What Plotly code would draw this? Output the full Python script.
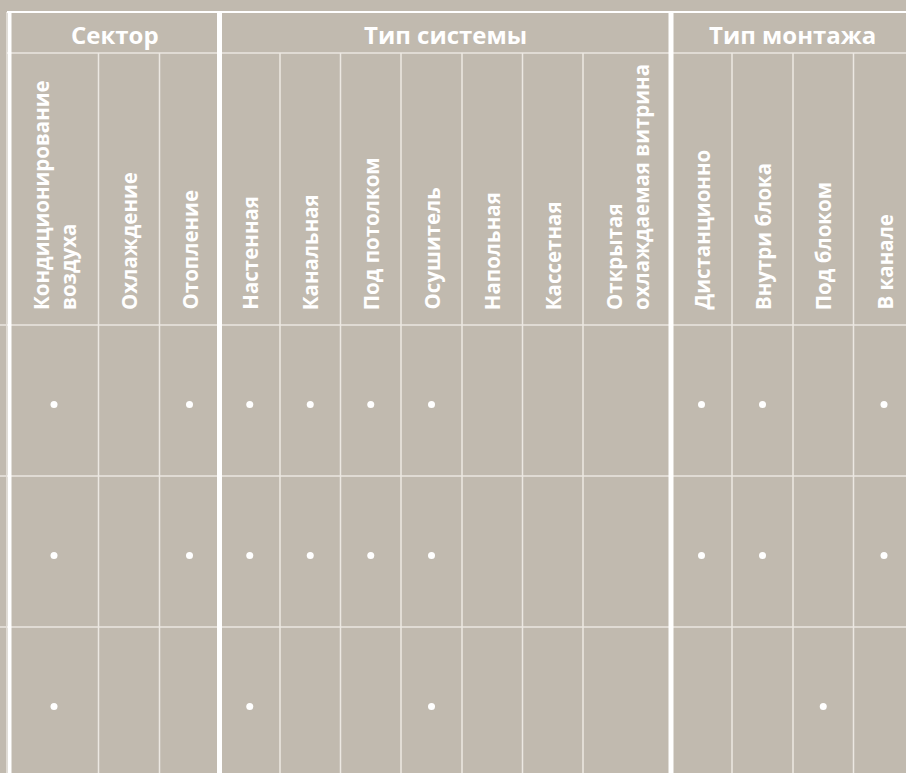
import plotly.graph_objects as go

# ---------------- data ----------------
groups = ["Сектор", "Тип системы", "Тип монтажа"]
group_sizes = [3, 7, 4]
columns = [
    "Кондиционирование<br>воздуха", "Охлаждение", "Отопление",
    "Настенная", "Канальная", "Под потолком", "Осушитель", "Напольная", "Кассетная",
    "Открытая<br>охлаждаемая витрина",
    "Дистанционно", "Внутри блока", "Под блоком", "В канале",
]
row_1 = [1, 0, 1, 1, 1, 1, 1, 0, 0, 0, 1, 1, 0, 1]
row_2 = [1, 0, 1, 1, 1, 1, 1, 0, 0, 0, 1, 1, 0, 1]
row_3 = [1, 0, 0, 1, 0, 0, 1, 0, 0, 0, 0, 0, 1, 0]
rows = [row_1, row_2, row_3]

# ---------------- layout geometry ----------------
W, H = 906, 773
BG = "#c1baaf"
THIN = "#ece8e2"
HLINE = "#e0dbd4"
col_widths = [89, 61, 60, 60.5, 60.5, 60.5, 61, 60.5, 60.5, 88, 61, 61, 60.5, 61]
x0 = 9.5
edges = [x0]
for w in col_widths:
    edges.append(edges[-1] + w)
centers = [(edges[i] + edges[i + 1]) / 2 for i in range(len(col_widths))]

top_line = 12
group_bottom = 53
header_bottom = 325
row_h = 151
row_tops = [header_bottom + i * row_h for i in range(len(rows))]

fig = go.Figure()

# dots
xs, ys = [], []
for r, vals in enumerate(rows):
    for c, v in enumerate(vals):
        if v:
            xs.append(centers[c])
            ys.append(row_tops[r] + row_h / 2 + 4)
fig.add_trace(go.Scatter(
    x=xs, y=ys, mode="markers",
    marker=dict(color="white", size=7, line=dict(width=0)),
    hoverinfo="skip", showlegend=False,
))

shapes = []
# horizontal lines
shapes.append(dict(type="line", x0=7, x1=W, y0=top_line, y1=top_line,
                   line=dict(color="white", width=2)))
shapes.append(dict(type="line", x0=7, x1=W, y0=group_bottom, y1=group_bottom,
                   line=dict(color=HLINE, width=2)))
for rt in row_tops:
    shapes.append(dict(type="line", x0=0, x1=W, y0=rt, y1=rt,
                       line=dict(color=HLINE, width=2)))

# group boundaries (thick)
group_edges_idx = [0]
for g in group_sizes:
    group_edges_idx.append(group_edges_idx[-1] + g)
thick_idx = set(group_edges_idx[:-1])
for i in range(1, len(edges) - 1):
    if i not in thick_idx:
        shapes.append(dict(type="line", x0=edges[i], x1=edges[i], y0=group_bottom, y1=H,
                           line=dict(color=THIN, width=1.5)))
shapes.append(dict(type="line", x0=6.5, x1=6.5, y0=top_line, y1=H,
                   line=dict(color=HLINE, width=1)))
for i in sorted(thick_idx):
    shapes.append(dict(type="line", x0=edges[i], x1=edges[i], y0=top_line, y1=H,
                       line=dict(color="white", width=4 if i == 0 else 5)))

annotations = []
# group headers
for gi, g in enumerate(groups):
    a, b = edges[group_edges_idx[gi]], edges[group_edges_idx[gi + 1]]
    annotations.append(dict(
        x=(a + b) / 2, y=34, xref="x", yref="y", text=g, showarrow=False,
        xanchor="center", yanchor="middle",
        font=dict(family="Open Sans", size=24, color="white", weight=700),
    ))
# column headers (rotated)
for c, name in enumerate(columns):
    annotations.append(dict(
        x=centers[c], y=header_bottom - 13, xref="x", yref="y", text=name,
        showarrow=False, textangle=-90, xanchor="center", yanchor="bottom",
        align="left",
        font=dict(family="Open Sans", size=20.5, color="white", weight=700),
    ))

fig.update_layout(
    width=W, height=H,
    margin=dict(l=0, r=0, t=0, b=0),
    paper_bgcolor=BG, plot_bgcolor=BG,
    xaxis=dict(range=[0, W], visible=False, fixedrange=True),
    yaxis=dict(range=[H, 0], visible=False, fixedrange=True),
    shapes=shapes, annotations=annotations,
)

fig.write_html(
    "out.html",
    config={"displayModeBar": False},
    post_script="document.body.style.margin='0';document.body.style.background='%s';" % BG,
)
